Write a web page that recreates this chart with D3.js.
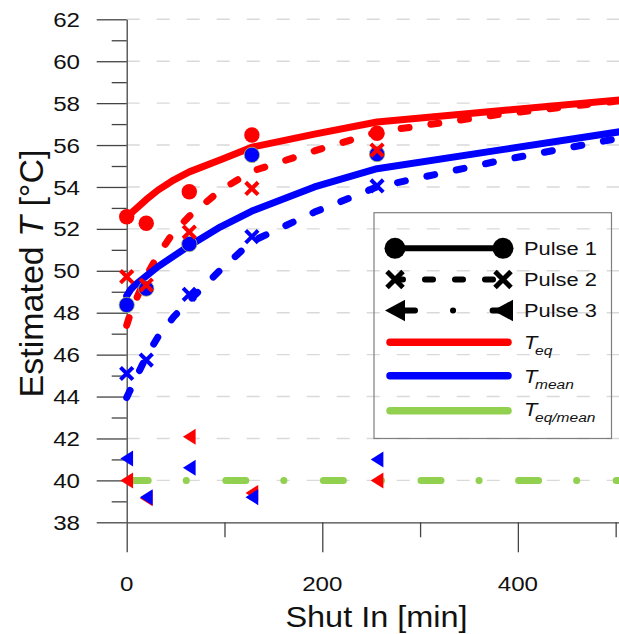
<!DOCTYPE html>
<html><head><meta charset="utf-8">
<script src="https://cdn.jsdelivr.net/npm/d3@7"></script>
<style>body{margin:0;background:#fff}svg{display:block}</style>
</head><body>
<svg id="c" width="619" height="634"></svg>
<script>
// ---- data ----
const times = [0, 20, 64, 128, 256];
const pulse1Teq   = [52.58, 52.27, 53.77, 56.48, 56.56];
const pulse1Tmean = [48.37, 49.15, 51.28, 55.53, 55.57];
const pulse2Teq   = [49.72, 49.32, 51.85, 53.93, 55.76];
const pulse2Tmean = [45.10, 45.74, 48.88, 51.63, 54.05];
const pulse3Teq   = [40.00, 39.15, 42.08, 39.40, 40.00];
const pulse3Tmean = [41.05, 39.20, 40.60, 39.20, 41.00];

const fitTimes  = [0, 4, 8, 20, 32, 48, 64, 96, 128, 192, 256, 384, 512];
const fitTeq1   = [52.55, 52.72, 52.90, 53.40, 53.85, 54.33, 54.72, 55.30, 55.90, 56.52, 57.10, 57.65, 58.18];
const fitTeq2   = [47.40, 48.00, 48.45, 49.75, 50.75, 51.85, 52.60, 53.85, 54.75, 55.72, 56.62, 57.48, 58.15];
const fitTmean1 = [48.80, 49.10, 49.30, 49.75, 50.20, 50.70, 51.20, 52.10, 52.85, 54.00, 54.87, 55.78, 56.69];
const fitTmean2 = [43.95, 44.35, 44.75, 45.90, 46.85, 47.80, 48.58, 50.05, 51.40, 52.80, 54.00, 55.28, 56.40];
const fitRatioTimes = [0, 512];
const fitRatio3 = [40, 40];

const yMajor = [38, 40, 42, 44, 46, 48, 50, 52, 54, 56, 58, 60, 62];
const yMinor = [39, 41, 43, 45, 47, 49, 51, 53, 55, 57, 59, 61];
const xMajor = [0, 200, 400];
const xMinor = [100, 300, 500];
const pulseLabels = ["Pulse 1", "Pulse 2", "Pulse 3"];
const tempSubs = ["eq", "mean", "eq/mean"];

// ---- setup ----
const svg = d3.select("#c");
const FONT = "'Liberation Sans', Arial, sans-serif";
const RED = "#ff0000", BLUE = "#0000ff", GREEN = "#92d050", AX = "#444";
const x = d3.scaleLinear().domain([0, 503]).range([126.7, 618.6]);
const y = d3.scaleLinear().domain([38, 62]).range([522.3, 19.3]);
const zip = (t, v) => t.map((d, i) => [d, v[i]]);

// grid
svg.append("g").selectAll("line").data(yMajor.filter(v => v > 38)).join("line")
  .attr("x1", x(0)).attr("x2", 619).attr("y1", d => y(d)).attr("y2", d => y(d))
  .attr("stroke", "#d9d9d9").attr("stroke-width", 1.4).attr("stroke-dasharray", "13,17");

// axes
function yAxis(vals, size, domain) {
  const g = svg.append("g").attr("transform", `translate(${x(0)},0)`)
    .call(d3.axisLeft(y).tickValues(vals).tickSize(size).tickSizeOuter(0).tickFormat(""));
  g.selectAll("line").attr("stroke", AX).attr("stroke-width", 1.3);
  g.select(".domain").attr("stroke", AX).attr("stroke-width", 1.3).attr("display", domain ? null : "none");
}
function xAxis(vals, size, domain) {
  const g = svg.append("g").attr("transform", `translate(0,${y(38)})`)
    .call(d3.axisBottom(x).tickValues(vals).tickSize(size).tickSizeOuter(0).tickFormat(""));
  g.selectAll("line").attr("stroke", AX).attr("stroke-width", 1.3);
  g.select(".domain").attr("stroke", AX).attr("stroke-width", 1.3).attr("display", domain ? null : "none");
}
yAxis(yMajor, 30, true); yAxis(yMinor, 15, false);
xAxis(xMajor, 30, true); xAxis(xMinor, 15, false);

// tick labels
svg.append("g").selectAll("text").data(yMajor).join("text")
  .attr("transform", d => `translate(80,${y(d)}) scale(1.15,1)`)
  .attr("dy", "0.36em").attr("text-anchor", "end")
  .attr("font-family", FONT).attr("font-size", 21).attr("fill", "#111").text(d => d);
svg.append("g").selectAll("text").data(xMajor).join("text")
  .attr("transform", d => `translate(${x(d)},590.5) scale(1.15,1)`)
  .attr("text-anchor", "middle")
  .attr("font-family", FONT).attr("font-size", 21).attr("fill", "#111").text(d => d);

// axis titles
svg.append("text").attr("transform", "translate(376.5,627) scale(1.12,1)")
  .attr("text-anchor", "middle").attr("font-family", FONT).attr("font-size", 29).attr("fill", "#111")
  .text("Shut In [min]");
const yt = svg.append("text").attr("transform", "translate(43,273.5) rotate(-90)")
  .attr("text-anchor", "middle").attr("font-family", FONT).attr("font-size", 34).attr("fill", "#111");
yt.append("tspan").text("Estimated ");
yt.append("tspan").attr("font-style", "italic").text("T");
yt.append("tspan").text(" [°C]");

// fit lines
const line = d3.line().x(d => x(d[0])).y(d => y(d[1]));
const fits = [
  {t: fitRatioTimes, v: fitRatio3, c: GREEN, dash: "20,38,0.1,39.5", off: -1.5},
  {t: fitTimes, v: fitTeq1, c: RED, dash: null},
  {t: fitTimes, v: fitTeq2, c: RED, dash: "8,22"},
  {t: fitTimes, v: fitTmean1, c: BLUE, dash: null},
  {t: fitTimes, v: fitTmean2, c: BLUE, dash: "8,22"}
];
fits.forEach(f => {
  svg.append("path").datum(zip(f.t, f.v)).attr("d", line)
    .attr("fill", "none").attr("stroke", f.c).attr("stroke-width", 7)
    .attr("stroke-linecap", "round").attr("stroke-linejoin", "round")
    .attr("stroke-dasharray", f.dash).attr("stroke-dashoffset", f.off || 0);
});

// markers
const xPath = s => `M${-s},${-s}L${s},${s}M${-s},${s}L${s},${-s}`;
const triPath = (w, h) => `M${-w / 2},0L${w / 2},${-h / 2}L${w / 2},${h / 2}Z`;
function circles(v, c, outline) {
  svg.append("g").selectAll("circle").data(zip(times, v)).join("circle")
    .attr("cx", d => x(d[0])).attr("cy", d => y(d[1])).attr("r", 7.7).attr("fill", c)
    .attr("stroke", outline ? "#a8c060" : "none").attr("stroke-width", 0.8);
}
function crosses(v, c) {
  svg.append("g").selectAll("path").data(zip(times, v)).join("path")
    .attr("transform", d => `translate(${x(d[0])},${y(d[1])})`).attr("d", xPath(6.2))
    .attr("stroke", c).attr("stroke-width", 4).attr("fill", "none");
}
function tris(v, c) {
  svg.append("g").selectAll("path").data(zip(times, v)).join("path")
    .attr("transform", d => `translate(${x(d[0])},${y(d[1])})`).attr("d", triPath(12.7, 16))
    .attr("fill", c);
}
circles(pulse1Teq, RED, false);
circles(pulse1Tmean, BLUE, true);
crosses(pulse2Teq, RED);
crosses(pulse2Tmean, BLUE);
tris(pulse3Teq, RED);
tris(pulse3Tmean, BLUE);

// legend
const lg = svg.append("g");
lg.append("rect").attr("x", 374).attr("y", 212.7).attr("width", 237.5).attr("height", 225.8)
  .attr("fill", "none").attr("stroke", "#7f7f7f").attr("stroke-width", 1.2);
const rowsY = [248.3, 279.5, 310.5];
const baseY = [255.2, 286.4, 317.4];
const pulseDash = [null, "8,22", "20,38,0.1,39.5"];
pulseLabels.forEach((lab, i) => {
  const yy = rowsY[i];
  lg.append("line").attr("x1", 395).attr("x2", 503).attr("y1", yy).attr("y2", yy)
    .attr("stroke", "#000").attr("stroke-width", 6).attr("stroke-linecap", "round")
    .attr("stroke-dasharray", pulseDash[i]);
  [395, 503].forEach(cx => {
    if (i === 0) lg.append("circle").attr("cx", cx).attr("cy", yy).attr("r", 10.5).attr("fill", "#000");
    if (i === 1) lg.append("path").attr("transform", `translate(${cx},${yy})`).attr("d", xPath(8))
      .attr("stroke", "#000").attr("stroke-width", 5).attr("fill", "none");
    if (i === 2) lg.append("path").attr("transform", `translate(${cx},${yy})`).attr("d", triPath(20, 21.5))
      .attr("fill", "#000");
  });
  lg.append("text").attr("transform", `translate(524,${baseY[i]}) scale(1.15,1)`)
    .attr("font-family", FONT).attr("font-size", 19).attr("fill", "#111").text(lab);
});
const tempColors = [RED, BLUE, GREEN];
const tRows = [342.3, 375.7, 410.7];
const tBase = [349.3, 383.3, 415.7];
tempSubs.forEach((s, i) => {
  lg.append("line").attr("x1", 390).attr("x2", 508).attr("y1", tRows[i]).attr("y2", tRows[i])
    .attr("stroke", tempColors[i]).attr("stroke-width", 7.5).attr("stroke-linecap", "round");
  const t = lg.append("text").attr("transform", `translate(524,${tBase[i]}) scale(1.15,1)`)
    .attr("font-family", FONT).attr("fill", "#111").attr("font-style", "italic");
  t.append("tspan").attr("font-size", 19).text("T");
  t.append("tspan").attr("font-size", 13.5).attr("dx", -2).attr("dy", 6).text(s);
});
</script>
</body></html>
